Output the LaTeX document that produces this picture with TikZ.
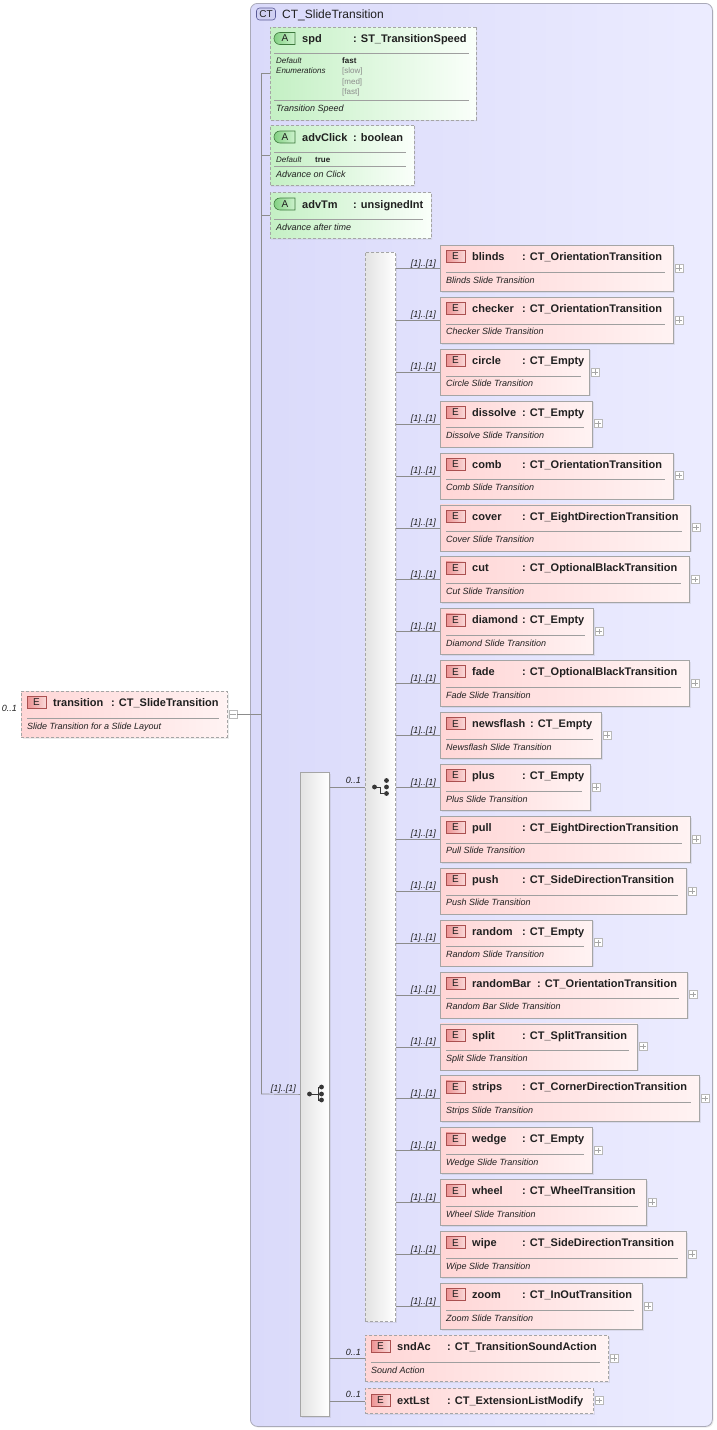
\documentclass[tikz,border=0pt]{standalone}
\usepackage{fontspec}
\setmainfont{Liberation Sans}
\usetikzlibrary{shapes.misc,shadows}
\definecolor{ctL}{RGB}{218,218,250}
\definecolor{ctR}{RGB}{236,236,255}
\definecolor{ctBorder}{RGB}{170,170,185}
\definecolor{elL}{RGB}{255,214,214}
\definecolor{elR}{RGB}{255,243,243}
\definecolor{boxBorder}{RGB}{165,165,165}
\definecolor{attL}{RGB}{196,240,196}
\definecolor{attR}{RGB}{250,255,250}
\definecolor{wireCol}{RGB}{140,140,140}
\definecolor{txt}{RGB}{32,32,32}
\definecolor{enumGray}{RGB}{140,140,140}
\definecolor{eBadgeL}{RGB}{236,146,146}
\definecolor{eBadgeR}{RGB}{250,216,216}
\definecolor{eBadgeBorder}{RGB}{170,80,80}
\definecolor{aBadgeL}{RGB}{130,208,130}
\definecolor{aBadgeR}{RGB}{205,242,205}
\definecolor{aBadgeBorder}{RGB}{60,120,60}
\definecolor{ctBadgeFill}{RGB}{208,208,242}
\definecolor{ctBadgeBorder}{RGB}{90,90,150}
\definecolor{iconCol}{RGB}{55,55,55}
\tikzset{
  softshadow/.style={drop shadow={shadow xshift=1.2pt, shadow yshift=-1.2pt, opacity=0.15}},
  elbox/.style={rectangle, draw=boxBorder, line width=0.8pt, left color=elL, right color=elR, inner sep=0pt, anchor=north west, softshadow},
  optbox/.style={elbox, dash pattern=on 3pt off 2pt},
  attbox/.style={chamfered rectangle, chamfered rectangle corners={north west,south west}, chamfered rectangle xsep=4pt, chamfered rectangle ysep=4pt, draw=boxBorder, line width=0.8pt, dash pattern=on 3pt off 2pt, left color=attL, right color=attR, inner sep=0pt, softshadow},
  groupbox/.style={rectangle, draw=boxBorder, line width=0.8pt, left color=gray!22, right color=white, inner sep=0pt, anchor=north west, softshadow},
  nameT/.style={anchor=base west, inner sep=0pt, font=\fontsize{11}{13}\selectfont\bfseries, text=txt},
  descT/.style={anchor=base west, inner sep=0pt, font=\fontsize{9}{11}\selectfont\itshape, text=txt},
  smallI/.style={anchor=base west, inner sep=0pt, font=\fontsize{8}{10}\selectfont\itshape, text=txt},
  smallB/.style={anchor=base west, inner sep=0pt, font=\fontsize{8}{10}\selectfont\bfseries, text=txt},
  enumT/.style={anchor=base west, inner sep=0pt, font=\fontsize{8}{10}\selectfont, text=enumGray},
  lblT/.style={anchor=base east, inner sep=0pt, font=\fontsize{9}{11}\selectfont\itshape, text=txt},
  sepline/.style={draw=gray!75, line width=0.6pt},
  wire/.style={draw=wireCol, line width=0.7pt},
  ebadge/.style={rectangle, draw=eBadgeBorder, line width=0.6pt, left color=eBadgeL, right color=eBadgeR, minimum width=19pt, minimum height=12pt, inner sep=0pt, font=\fontsize{10}{10}\selectfont, text=txt},
  abadge/.style={rounded rectangle, rounded rectangle right arc=none, draw=aBadgeBorder, line width=0.6pt, left color=aBadgeL, right color=aBadgeR, minimum width=21pt, minimum height=12pt, inner sep=0pt, font=\fontsize{10}{10}\selectfont, text=txt},
  ctbadge/.style={rectangle, rounded corners=3pt, draw=ctBadgeBorder, line width=0.6pt, fill=ctBadgeFill, minimum width=19pt, minimum height=12pt, inner sep=0pt, font=\fontsize{10}{10}\selectfont, text=txt},
  pmbox/.style={rectangle, draw=gray!55, line width=0.6pt, fill=white, minimum size=8pt, inner sep=0pt},
  pmmark/.style={draw=gray!70, line width=0.6pt},
  icon/.style={draw=iconCol, line width=0.9pt},
  icondot/.style={fill=iconCol},
}
% #1 id, #2 left, #3 top, #4 right, #5 box style, #6 name, #7 type offset, #8 type, #9 description
\newcommand\elem[9]{%
  \node[#5, minimum width={(#4-#2)*1pt}, minimum height=46pt] (#1) at (#2,#3) {};
  \node[ebadge] (#1-b) at ({#2+15.5},{#3+11.5}) {E};
  \node[nameT] (#1-n) at ({#2+32},{#3+15.5}) {#6};
  \node[nameT] (#1-t) at ({#2+#7},{#3+15.5}) {#8};
  \draw[sepline] ({#2+6},{#3+27}) -- ({#4-8},{#3+27});
  \node[descT] (#1-d) at ({#2+6},{#3+38}) {#9};
  \node[pmbox] (#1-p) at ({#4+6},{#3+23}) {};
}
\newcommand\pmminus[1]{\draw[pmmark] ([xshift=1.5pt]#1-p.west) -- ([xshift=-1.5pt]#1-p.east);}
\newcommand\pmplus[1]{\pmminus{#1}\draw[pmmark] ([yshift=-1.5pt]#1-p.north) -- ([yshift=1.5pt]#1-p.south);}
\begin{document}
\begin{tikzpicture}[x=1pt,y=-1pt]
\useasboundingbox (0,0) rectangle (717,1430);
\fill[white] (0,0) rectangle (717,1430);

% complex type container
\node[rectangle, rounded corners=7pt, draw=ctBorder, line width=0.8pt, left color=ctL, right color=ctR, inner sep=0pt, anchor=north west, minimum width=462pt, minimum height=1423pt, softshadow] (ct) at (250,3) {};
\node[ctbadge] (ctb) at (266,14) {CT};
\node[anchor=base west, inner sep=0pt, font=\fontsize{12}{14}\selectfont, text=txt] (ctt) at (282,18) {CT\_SlideTransition};

% trunk
\coordinate (trTop) at (261,73.5);
\coordinate (trBot) at (261,1094);

% attributes
\node[attbox, minimum width=206pt, minimum height=93pt] (spd) at (373,73.5) {};
\node[abadge] (spd-b) at (285,38.5) {A};
\node[nameT] (spd-n) at (302,42.5) {spd};
\node[nameT] (spd-t) at (353,42.5) {: ST\_TransitionSpeed};
\draw[sepline] (274,53) -- (469,53);
\node[smallI] (spd-def) at (276,63) {Default};
\node[smallB] (spd-defv) at (342,63) {fast};
\node[smallI] (spd-enum) at (276,73) {Enumerations};
\node[enumT] (spd-e1) at (342,73) {[slow]};
\node[enumT] (spd-e2) at (342,84) {[med]};
\node[enumT] (spd-e3) at (342,94.5) {[fast]};
\draw[sepline] (274,100) -- (469,100);
\node[descT] (spd-d) at (276,111) {Transition Speed};

\node[attbox, minimum width=144pt, minimum height=60pt] (advClick) at (342,155.5) {};
\node[abadge] (advClick-b) at (285,137) {A};
\node[nameT] (advClick-n) at (302,141) {advClick};
\node[nameT] (advClick-t) at (353,141) {: boolean};
\draw[sepline] (274,152.5) -- (406,152.5);
\node[smallI] (advClick-def) at (276,162.5) {Default};
\node[smallB] (advClick-defv) at (315,162.5) {true};
\draw[sepline] (274,166) -- (406,166);
\node[descT] (advClick-d) at (276,177) {Advance on Click};

\node[attbox, minimum width=161pt, minimum height=46pt] (advTm) at (350.5,215.5) {};
\node[abadge] (advTm-b) at (285,204) {A};
\node[nameT] (advTm-n) at (302,208) {advTm};
\node[nameT] (advTm-t) at (353,208) {: unsignedInt};
\draw[sepline] (274,219.5) -- (423,219.5);
\node[descT] (advTm-d) at (276,230) {Advance after time};

\draw[wire] (trTop) -- (trBot);
\draw[wire] (trTop) -- (spd.west);
\draw[wire] (advClick.west -| trTop) -- (advClick.west);
\draw[wire] (advTm.west -| trTop) -- (advTm.west);

% root element
\elem{trans}{21}{691}{227}{optbox}{transition}{90}{: CT\_SlideTransition}{Slide Transition for a Slide Layout}
\pmminus{trans}
\node[lblT] (trans-l) at (17,711) {0..1};
\draw[wire] (trans-p.east) -- (trans-p.east -| trTop);

% sequence
\node[groupbox, minimum width=29pt, minimum height=644pt] (seq) at (300,772) {};
\draw[wire] (trBot) -- (seq.west);
\node[lblT] (seq-l) at (296,1091) {[1]..[1]};
\draw[icon] (309.5,1094) -- (318,1094) (318,1087) -- (318,1100)
            (318,1087) -- (321.5,1087) (318,1100) -- (321.5,1100) (318,1094) -- (321.5,1094);
\fill[icondot] (309.5,1094) circle (2.4) (321.5,1087) circle (2.4) (321.5,1094) circle (2.4) (321.5,1100) circle (2.4);

% choice
\node[groupbox, dash pattern=on 3pt off 2pt, minimum width=30pt, minimum height=1069pt] (choice) at (365,252) {};
\draw[wire] (seq.east |- choice.west) -- (choice.west);
\node[lblT] (choice-l) at (361,783) {0..1};
\draw[icon] (374.5,787) -- (380.5,787) -- (380.5,793.5) -- (386.5,793.5);
\fill[icondot] (374.5,787) circle (2.4) (386.5,780.5) circle (2.4) (386.5,787) circle (2.4) (386.5,793.5) circle (2.4);

% choice children
\foreach \i/\nm/\ty/\rt/\tx/\ds in {
  0/blinds/CT\_OrientationTransition/673/82/Blinds Slide Transition,
  1/checker/CT\_OrientationTransition/673/82/Checker Slide Transition,
  2/circle/CT\_Empty/589/82/Circle Slide Transition,
  3/dissolve/CT\_Empty/592/82/Dissolve Slide Transition,
  4/comb/CT\_OrientationTransition/673/82/Comb Slide Transition,
  5/cover/CT\_EightDirectionTransition/690/82/Cover Slide Transition,
  6/cut/CT\_OptionalBlackTransition/689/82/Cut Slide Transition,
  7/diamond/CT\_Empty/593/82/Diamond Slide Transition,
  8/fade/CT\_OptionalBlackTransition/689/82/Fade Slide Transition,
  9/newsflash/CT\_Empty/601/90/Newsflash Slide Transition,
  10/plus/CT\_Empty/590/82/Plus Slide Transition,
  11/pull/CT\_EightDirectionTransition/690/82/Pull Slide Transition,
  12/push/CT\_SideDirectionTransition/686/82/Push Slide Transition,
  13/random/CT\_Empty/592/82/Random Slide Transition,
  14/randomBar/CT\_OrientationTransition/687/97/Random Bar Slide Transition,
  15/split/CT\_SplitTransition/637/82/Split Slide Transition,
  16/strips/CT\_CornerDirectionTransition/699/82/Strips Slide Transition,
  17/wedge/CT\_Empty/592/82/Wedge Slide Transition,
  18/wheel/CT\_WheelTransition/646/82/Wheel Slide Transition,
  19/wipe/CT\_SideDirectionTransition/686/82/Wipe Slide Transition,
  20/zoom/CT\_InOutTransition/642/82/Zoom Slide Transition} {
  \pgfmathsetmacro\T{245+51.9*\i}
  \elem{\nm}{440}{\T}{\rt}{elbox}{\nm}{\tx}{: \ty}{\ds}
  \pmplus{\nm}
  \draw[wire] (choice.east |- \nm.west) -- (\nm.west);
  \node[lblT] (\nm-l) at (436,{\T+21}) {[1]..[1]};
}

% sndAc
\elem{sndAc}{365}{1335}{608}{optbox}{sndAc}{82}{: CT\_TransitionSoundAction}{Sound Action}
\pmplus{sndAc}
\draw[wire] (seq.east |- sndAc.west) -- (sndAc.west);
\node[lblT] (sndAc-l) at (361,1355) {0..1};

% extLst
\node[optbox, minimum width=228pt, minimum height=25pt] (extLst) at (365,1388) {};
\node[ebadge] (extLst-b) at (380.5,1400.5) {E};
\node[nameT] (extLst-n) at (397,1404.5) {extLst};
\node[nameT] (extLst-t) at (447,1404.5) {: CT\_ExtensionListModify};
\node[pmbox] (extLst-p) at (599,1400.5) {};
\pmplus{extLst}
\draw[wire] (seq.east |- extLst.west) -- (extLst.west);
\node[lblT] (extLst-l) at (361,1397) {0..1};
\end{tikzpicture}
\end{document}
